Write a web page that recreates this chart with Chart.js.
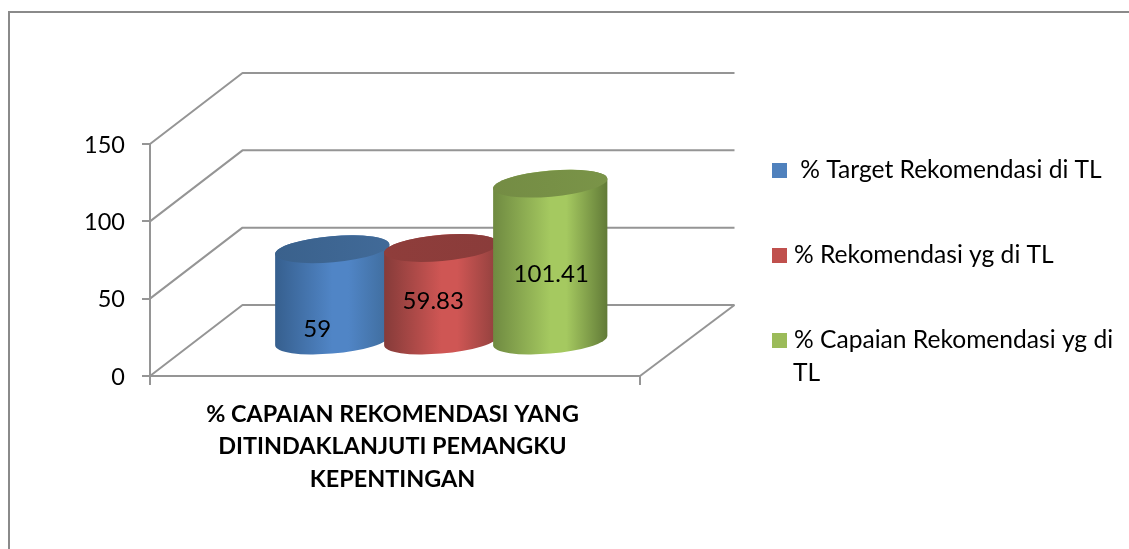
<!DOCTYPE html>
<html>
<head>
<meta charset="utf-8">
<style>html,body{margin:0;padding:0;background:#fff}canvas{display:block}</style>
<script src="https://cdn.jsdelivr.net/npm/chart.js@4/dist/chart.umd.min.js"></script>
</head>
<body>
<canvas id="c" width="1129" height="549"></canvas>
<script>
const categories = [["% CAPAIAN REKOMENDASI YANG", "DITINDAKLANJUTI PEMANGKU", "KEPENTINGAN"]];
const seriesNames = [" % Target Rekomendasi di TL", "% Rekomendasi yg di TL", "% Capaian Rekomendasi yg di"];
const seriesNamesExtra = ["", "", "TL"];
const targetValues = [59];
const rekomendasiValues = [59.83];
const capaianValues = [101.41];
const yTicks = [0, 50, 100, 150];

const FONT = 'Lato, Carlito, Calibri, sans-serif';
const GREY = '#959595';
const DEPTH_X = 92.5, DEPTH_Y = 71;
const palettes = [
  {base:'#4f81bd', edgeL:'#365f8e', mid:'#5085c6', edgeR:'#3f6c9c', capL:'#3a618c', capR:'#416a98'},
  {base:'#c0504d', edgeL:'#853b39', mid:'#cf5654', edgeR:'#8f403d', capL:'#8f3d3b', capR:'#8a3c3a'},
  {base:'#9bbb59', edgeL:'#6f8a41', mid:'#a5c960', edgeR:'#617a37', capL:'#748c44', capR:'#7a9448'}
];
const labelNudge = [[-15,-10],[-8,-38],[1,-65]];

const cylinder3d = {
  id:'cylinder3d',
  beforeDatasetsDraw(chart){
    const {ctx, chartArea:a, scales:{x, y}} = chart;
    ctx.save();
    ctx.strokeStyle = GREY; ctx.lineWidth = 2;
    ctx.lineJoin = 'round';
    // walls
    yTicks.forEach(v=>{
      const py = y.getPixelForValue(v);
      ctx.beginPath();
      ctx.moveTo(a.left, py);
      ctx.lineTo(a.left+DEPTH_X, py-DEPTH_Y);
      ctx.lineTo(a.right+DEPTH_X+2, py-DEPTH_Y);
      ctx.stroke();
    });
    // floor right edge
    ctx.beginPath();
    ctx.moveTo(a.right, a.bottom);
    ctx.lineTo(a.right+DEPTH_X+2, a.bottom-DEPTH_Y);
    ctx.stroke();

    // cylinders
    const theta = -5*Math.PI/180;
    chart.data.datasets.forEach((ds,i)=>{
      const el = chart.getDatasetMeta(i).data[0];
      const pal = palettes[i];
      const cx = el.x + DEPTH_X/2, ty = el.y - DEPTH_Y/2, by = el.base - DEPTH_Y/2 + 1;
      const A = el.width/2, B = A*0.228;
      const t0 = Math.atan(-(B/A)*Math.tan(theta));
      const g = ctx.createLinearGradient(cx-A,0,cx+A,0);
      g.addColorStop(0,pal.edgeL);
      g.addColorStop(0.5,pal.mid); g.addColorStop(0.64,pal.mid);
      g.addColorStop(1,pal.edgeR);
      ctx.fillStyle = g;
      ctx.beginPath();
      ctx.ellipse(cx,by,A,B,theta,t0,t0+Math.PI,false);
      ctx.ellipse(cx,ty,A,B,theta,t0+Math.PI,t0+2*Math.PI,false);
      ctx.closePath();
      ctx.fill();
      const gc = ctx.createLinearGradient(cx-A,0,cx+A,0);
      gc.addColorStop(0,pal.capL); gc.addColorStop(1,pal.capR);
      ctx.fillStyle = gc;
      ctx.beginPath();
      ctx.ellipse(cx,ty,A,B,theta,0,2*Math.PI);
      ctx.fill();
    });

    // value labels
    ctx.fillStyle = '#000';
    ctx.font = '24px '+FONT;
    ctx.textAlign = 'center'; ctx.textBaseline = 'middle';
    chart.data.datasets.forEach((ds,i)=>{
      const el = chart.getDatasetMeta(i).data[0];
      ctx.fillText(String(ds.data[0]), el.x+DEPTH_X/2+labelNudge[i][0], el.base-DEPTH_Y/2+labelNudge[i][1]);
    });
    ctx.restore();
    return false;
  },
  afterDraw(chart){
    const ctx = chart.ctx;
    ctx.save();
    // outer frame: top and left only
    ctx.strokeStyle = '#8a8a8a'; ctx.lineWidth = 2;
    ctx.beginPath();
    ctx.moveTo(9,549); ctx.lineTo(9,12); ctx.lineTo(1129,12);
    ctx.stroke();
    // legend
    const rows = [170.5,255.5,340.5];
    const textX = [794,794,794];
    ctx.font = '24.6px '+FONT;
    ctx.textAlign = 'left'; ctx.textBaseline = 'middle';
    chart.data.datasets.forEach((ds,i)=>{
      ctx.fillStyle = palettes[i].base;
      ctx.fillRect(772,rows[i]-7.5,15,15);
      ctx.fillStyle = '#000';
      ctx.fillText(ds.label,textX[i],rows[i]);
      if(seriesNamesExtra[i]) ctx.fillText(seriesNamesExtra[i],textX[i]-1,rows[i]+33);
    });
    ctx.restore();
  }
};

new Chart(document.getElementById('c'),{
  type:'bar',
  plugins:[cylinder3d],
  data:{
    labels:categories,
    datasets:[
      {label:seriesNames[0],data:targetValues,backgroundColor:palettes[0].base},
      {label:seriesNames[1],data:rekomendasiValues,backgroundColor:palettes[1].base},
      {label:seriesNames[2],data:capaianValues,backgroundColor:palettes[2].base}
    ]
  },
  options:{
    responsive:false,
    animation:false,
    devicePixelRatio:1,
    layout:{padding:{left:0,top:144,right:489,bottom:0}},
    plugins:{legend:{display:false},tooltip:{enabled:false}},
    datasets:{bar:{categoryPercentage:0.6673,barPercentage:1.052}},
    scales:{
      x:{
        grid:{drawOnChartArea:false,drawTicks:true,tickLength:9,color:GREY,lineWidth:2},
        border:{color:GREY,width:2},
        ticks:{color:'#000',padding:13,labelOffset:-2.5,maxRotation:0,autoSkip:false,font:{family:FONT,size:23.4,weight:'bold',lineHeight:1.39}},
        afterFit(s){s.height=173;}
      },
      y:{
        min:0,max:150,
        grid:{drawOnChartArea:false,drawTicks:true,tickLength:8,color:GREY,lineWidth:2},
        border:{color:GREY,width:2},
        ticks:{stepSize:50,color:'#000',padding:17,labelOffset:1,font:{family:FONT,size:23.5}},
        afterFit(s){s.width=150;}
      }
    }
  }
});
</script>
</body>
</html>
